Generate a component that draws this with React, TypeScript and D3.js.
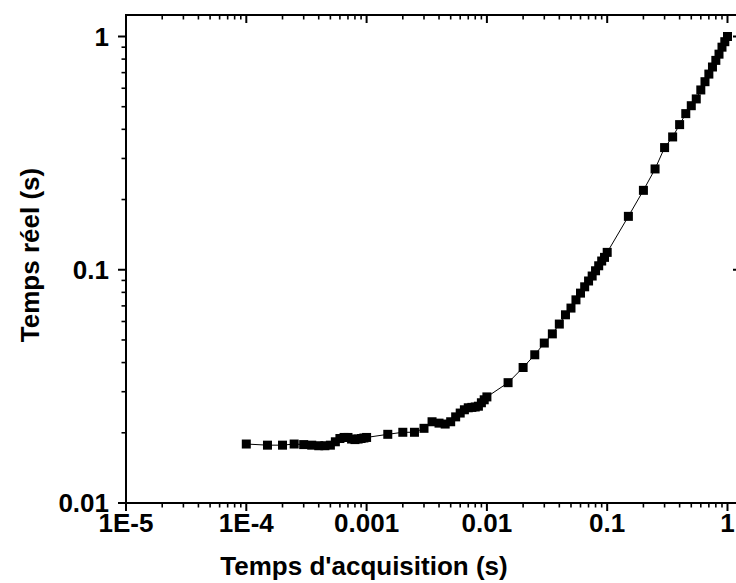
import React from "react";
import * as d3 from "d3";

const acqTime = [
  1e-4, 1.5e-4, 2e-4, 2.5e-4, 3e-4, 3.5e-4, 4e-4, 4.5e-4, 5e-4, 5.5e-4, 6e-4, 6.5e-4, 7e-4, 7.5e-4, 8e-4, 8.5e-4, 9e-4, 9.5e-4, 1e-3,
  1.5e-3, 2e-3, 2.5e-3, 3e-3, 3.5e-3, 4e-3, 4.5e-3, 5e-3, 5.5e-3, 6e-3, 6.5e-3, 7e-3, 7.5e-3, 8e-3, 8.5e-3, 9e-3, 9.5e-3, 0.01,
  0.015, 0.02, 0.025, 0.03, 0.035, 0.04, 0.045, 0.05, 0.055, 0.06, 0.065, 0.07, 0.075, 0.08, 0.085, 0.09, 0.095, 0.1,
  0.15, 0.2, 0.25, 0.3, 0.35, 0.4, 0.45, 0.5, 0.55, 0.6, 0.65, 0.7, 0.75, 0.8, 0.85, 0.9, 0.95, 1.0,
];
const realTime = [
  0.0179, 0.0177, 0.0177, 0.0179, 0.0178, 0.0177, 0.0176, 0.0176, 0.0177, 0.0183, 0.0189, 0.0191, 0.0191, 0.0188, 0.0187, 0.0188, 0.0189, 0.019, 0.0191,
  0.0197, 0.0201, 0.0201, 0.0209, 0.0223, 0.022, 0.0218, 0.0223, 0.0234, 0.0243, 0.0251, 0.0256, 0.0257, 0.0258, 0.026, 0.0269, 0.0277, 0.0285,
  0.0328, 0.0381, 0.0432, 0.0485, 0.0531, 0.0585, 0.0641, 0.0685, 0.0743, 0.0794, 0.0845, 0.0895, 0.094, 0.099, 0.104, 0.109, 0.113, 0.1187,
  0.1694, 0.219, 0.2705, 0.334, 0.371, 0.419, 0.467, 0.505, 0.54, 0.59, 0.64, 0.69, 0.74, 0.79, 0.84, 0.9, 0.95, 1.0,
];
const xTickLabels = ["1E-5", "1E-4", "0.001", "0.01", "0.1", "1"];
const yTickLabels = ["0.01", "0.1", "1"];

const W = 736;
const H = 583;
const left = 126;
const right = 741;
const top = 15;
const bottom = 503;

export default function App() {
  const x = d3.scaleLog().domain([1e-5, 1.295]).range([left, right]);
  const y = d3.scaleLog().domain([0.01, 1.0]).range([bottom, 36.5]);
  const yTop = y.invert(top);
  const yFull = d3.scaleLog().domain([0.01, yTop]).range([bottom, top]);

  const xMajors = [1e-5, 1e-4, 1e-3, 1e-2, 1e-1, 1];
  const xMinors: number[] = [];
  for (let e = -5; e <= 0; e++) {
    for (let k = 2; k <= 9; k++) {
      const v = k * Math.pow(10, e);
      if (v <= 1.295) xMinors.push(v);
    }
  }
  const yMajors = [0.01, 0.1, 1];
  const yMinors: number[] = [];
  for (let e = -2; e <= -1; e++) {
    for (let k = 2; k <= 9; k++) yMinors.push(k * Math.pow(10, e));
  }

  const pts = acqTime.map((t, i) => [x(t), yFull(realTime[i])] as [number, number]);
  const line = d3.line()(pts) || "";

  const font = "'Liberation Sans', Arial, sans-serif";
  const sq = 9;

  return (
    <svg width={W} height={H} style={{ position: "absolute", left: 0, top: 0, background: "#fff" }}>
      <rect x={0} y={0} width={W} height={H} fill="#fff" />
      <path d={`M${left},${top}V${bottom}H${right}V${top}Z`} fill="none" stroke="#000" strokeWidth={2} />
      {xMajors.map((v, i) => (
        <line key={"xb" + i} x1={x(v)} x2={x(v)} y1={bottom} y2={bottom + 8} stroke="#000" strokeWidth={2} />
      ))}
      {xMinors.map((v, i) => (
        <line key={"xbm" + i} x1={x(v)} x2={x(v)} y1={bottom} y2={bottom + 4.5} stroke="#000" strokeWidth={1.6} />
      ))}
      {xMajors.map((v, i) => (
        <line key={"xt" + i} x1={x(v)} x2={x(v)} y1={top} y2={top + 8} stroke="#000" strokeWidth={2} />
      ))}
      {xMinors.map((v, i) => (
        <line key={"xtm" + i} x1={x(v)} x2={x(v)} y1={top} y2={top + 4.5} stroke="#000" strokeWidth={1.6} />
      ))}
      {yMajors.map((v, i) => (
        <line key={"yl" + i} x1={left - 8} x2={left} y1={yFull(v)} y2={yFull(v)} stroke="#000" strokeWidth={2} />
      ))}
      {yMinors.map((v, i) => (
        <line key={"ylm" + i} x1={left - 4.5} x2={left} y1={yFull(v)} y2={yFull(v)} stroke="#000" strokeWidth={1.6} />
      ))}
      {yMajors.map((v, i) => (
        <line key={"yr" + i} x1={right - 8} x2={right} y1={yFull(v)} y2={yFull(v)} stroke="#000" strokeWidth={2} />
      ))}
      {yMinors.map((v, i) => (
        <line key={"yrm" + i} x1={right - 4.5} x2={right} y1={yFull(v)} y2={yFull(v)} stroke="#000" strokeWidth={1.6} />
      ))}
      {xMajors.map((v, i) => (
        <text key={"xl" + i} x={x(v)} y={532} textAnchor="middle" fontFamily={font} fontWeight="bold" fontSize={26} fill="#000">
          {xTickLabels[i]}
        </text>
      ))}
      {yMajors.map((v, i) => (
        <text key={"ylab" + i} x={109} y={yFull(v) + 9} textAnchor="end" fontFamily={font} fontWeight="bold" fontSize={26} fill="#000">
          {yTickLabels[i]}
        </text>
      ))}
      <path d={line} fill="none" stroke="#000" strokeWidth={1} />
      {pts.map((p, i) => (
        <rect key={"p" + i} x={p[0] - sq / 2} y={p[1] - sq / 2} width={sq} height={sq} fill="#000" />
      ))}
      <text x={364} y={575} textAnchor="middle" fontFamily={font} fontWeight="bold" fontSize={26} fill="#000">
        Temps d'acquisition (s)
      </text>
      <text transform={`translate(39,255) rotate(-90)`} textAnchor="middle" fontFamily={font} fontWeight="bold" fontSize={26} fill="#000">
        Temps réel (s)
      </text>
    </svg>
  );
}
